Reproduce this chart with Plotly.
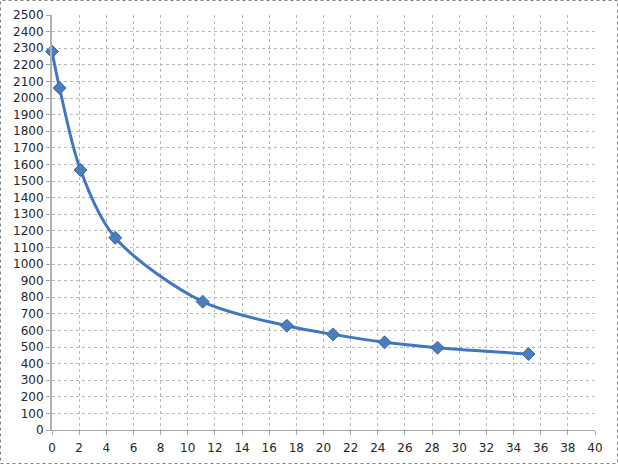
import plotly.graph_objects as go

x_vals = [0, 0.56, 2.1, 4.66, 11.1, 17.3, 20.7, 24.5, 28.4, 35.1]
y_vals = [2280, 2060, 1566, 1158, 773, 628, 576, 528, 496, 458]

W, H = 618, 464
ML, MR, MT, MB = 52, 23, 15, 34
PW, PH = W - ML - MR, H - MT - MB

fig = go.Figure()
fig.add_trace(go.Scatter(
    x=x_vals, y=y_vals, mode="lines+markers",
    line=dict(color="#4176c4", width=3, shape="spline", smoothing=0.9),
    marker=dict(symbol="diamond", size=10, color="#4a7ebb",
                line=dict(color="#3868ae", width=1)),
    showlegend=False, cliponaxis=False,
))

axis_font = dict(family="DejaVu Sans", size=12, color="#262626")
grid = dict(showgrid=True, gridcolor="#b8b8b8", griddash="dot", gridwidth=1)
fig.update_xaxes(
    range=[0, 40], dtick=2, tick0=0, automargin=False, **grid,
    showline=True, linecolor="#a6a6a6", linewidth=1,
    ticks="outside", ticklen=4, tickcolor="#a6a6a6",
    tickfont=axis_font, zeroline=False, ticklabelstandoff=3,
)
fig.update_yaxes(
    range=[0, 2500], dtick=100, tick0=0, automargin=False, **grid,
    showline=True, linecolor="#b0b0b0", linewidth=2,
    ticks="outside", ticklen=4, tickcolor="#a6a6a6",
    tickfont=axis_font, zeroline=False, ticklabelstandoff=0,
)

fig.add_shape(
    type="rect", xref="paper", yref="paper",
    x0=(0.5 - ML) / PW, x1=(W - 0.5 - ML) / PW,
    y0=(H - MB - (H - 0.5)) / PH, y1=(H - MB - 0.5) / PH,
    line=dict(color="#808080", width=1, dash="dot"),
    layer="above",
)

fig.update_layout(
    width=W, height=H,
    margin=dict(l=ML, r=MR, t=MT, b=MB),
    plot_bgcolor="white", paper_bgcolor="white",
)

fig.write_html("out.html", config={"displayModeBar": False},
               post_script="document.body.style.margin='0';document.body.style.overflow='hidden';")
